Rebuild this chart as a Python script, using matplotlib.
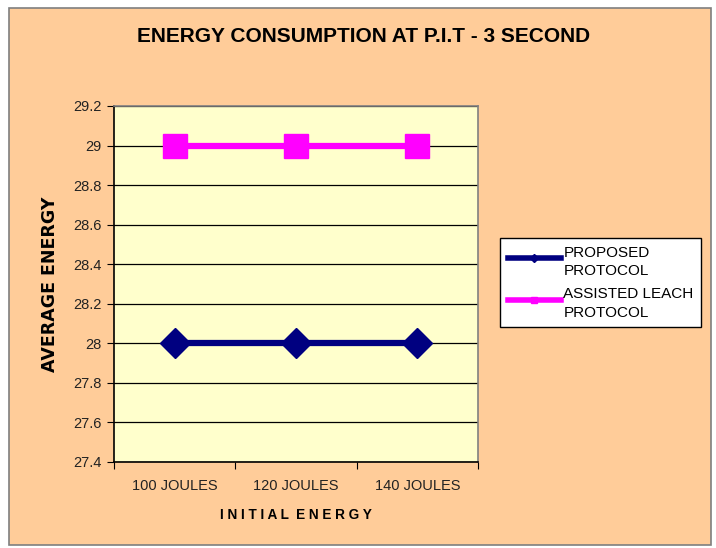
import matplotlib
matplotlib.use("Agg")
import matplotlib.pyplot as plt
from matplotlib.patches import Rectangle
from matplotlib.lines import Line2D
from matplotlib.legend_handler import HandlerLine2D

categories = ["100 JOULES", "120 JOULES", "140 JOULES"]
proposed = [28.0, 28.0, 28.0]
assisted = [29.0, 29.0, 29.0]
yticks = [27.4, 27.6, 27.8, 28.0, 28.2, 28.4, 28.6, 28.8, 29.0, 29.2]
ytick_labels = ["27.4", "27.6", "27.8", "28", "28.2", "28.4", "28.6", "28.8", "29", "29.2"]

W, H = 716, 548
fig = plt.figure(figsize=(W / 100, H / 100), dpi=100)
fig.patch.set_facecolor("white")
plt.rcParams["font.family"] = ["Liberation Sans", "DejaVu Sans"]

# outer chart area
fig.patches.append(Rectangle((9 / W, 1 - 545 / H), (711 - 9) / W, (545 - 8) / H,
                             transform=fig.transFigure, facecolor="#FFCC99",
                             edgecolor="#7f7f7f", linewidth=1.2, zorder=-5))

ax = fig.add_axes([114 / W, 1 - 462 / H, (478 - 114) / W, (462 - 106) / H])
ax.set_zorder(1)
ax.set_facecolor("#FFFFCC")
x = list(range(len(categories)))
ax.plot(x, proposed, color="#000080", linewidth=4.5, marker="D", markersize=15.5,
        zorder=3, clip_on=False)
ax.plot(x, assisted, color="#FF00FF", linewidth=4.5, marker="s", markersize=17,
        zorder=3, clip_on=False)

ax.set_xlim(-0.5, 2.5)
ax.set_ylim(27.4, 29.2)
ax.set_yticks(yticks)
ax.set_yticklabels(ytick_labels, fontsize=10.5, color="#222222")
ax.set_xticks([-0.5, 0.5, 1.5, 2.5])
ax.set_xticklabels([])
ax.set_xticks(x, minor=True)
ax.set_xticklabels(categories, minor=True, fontsize=10.5, color="#222222")
ax.tick_params(axis="x", which="minor", length=0, pad=12)
ax.tick_params(axis="x", which="major", length=5, direction="out", color="black")
ax.tick_params(axis="y", length=5, direction="out", color="black", pad=4)
ax.yaxis.grid(True, color="black", linewidth=0.9)
ax.set_axisbelow(True)
for s in ["top", "right"]:
    ax.spines[s].set_color("#808080")
    ax.spines[s].set_linewidth(1.2)
for s in ["left", "bottom"]:
    ax.spines[s].set_color("black")
    ax.spines[s].set_linewidth(1.2)

ax.set_ylabel("AVERAGE ENERGY", fontsize=12.5, fontweight="bold",
              family="DejaVu Sans", labelpad=10)
ax.set_xlabel("I N I T I A L  E N E R G Y", fontsize=9.8, fontweight="bold", labelpad=11)

fig.text(364 / W, 1 - 37 / H, "ENERGY CONSUMPTION AT P.I.T - 3 SECOND",
         ha="center", va="center", fontsize=15, fontweight="bold")


class TopHandler(HandlerLine2D):
    def create_artists(self, legend, orig_handle, xdescent, ydescent,
                       width, height, fontsize, trans):
        return super().create_artists(legend, orig_handle, xdescent,
                                      ydescent - height * 0.72, width, height,
                                      fontsize, trans)


handles = [Line2D([], [], color="#000080", linewidth=4, marker="D", markersize=4),
           Line2D([], [], color="#FF00FF", linewidth=4, marker="s", markersize=4)]
leg = fig.legend(handles, ["PROPOSED\nPROTOCOL", "ASSISTED LEACH\nPROTOCOL"],
                 loc="upper left", bbox_to_anchor=(500 / W, 1 - 238 / H),
                 bbox_transform=fig.transFigure, fontsize=11, frameon=True,
                 fancybox=False, edgecolor="black", facecolor="white", framealpha=1,
                 handlelength=3.5, handletextpad=0.15, borderpad=0.5,
                 labelspacing=0.6, borderaxespad=0,
                 handler_map={Line2D: TopHandler()})
leg.get_frame().set_linewidth(1.0)
for t in leg.get_texts():
    t.set_linespacing(1.4)

fig.savefig("out.png", dpi=100, facecolor=fig.get_facecolor())
